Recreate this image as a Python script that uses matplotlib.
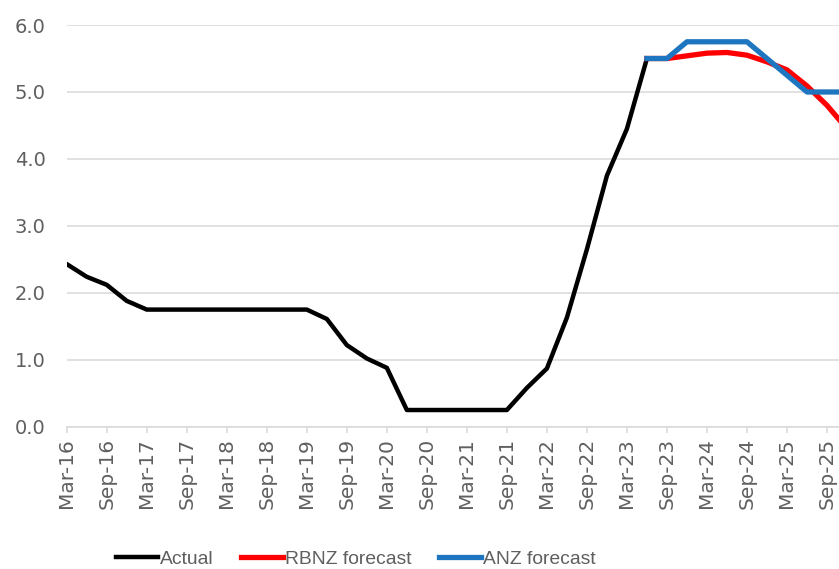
import matplotlib.pyplot as plt
import numpy as np

# quarterly labels, Mar-16 .. Dec-25
quarters = ['Mar-16', 'Jun-16', 'Sep-16', 'Dec-16', 'Mar-17', 'Jun-17', 'Sep-17', 'Dec-17',
            'Mar-18', 'Jun-18', 'Sep-18', 'Dec-18', 'Mar-19', 'Jun-19', 'Sep-19', 'Dec-19',
            'Mar-20', 'Jun-20', 'Sep-20', 'Dec-20', 'Mar-21', 'Jun-21', 'Sep-21', 'Dec-21',
            'Mar-22', 'Jun-22', 'Sep-22', 'Dec-22', 'Mar-23', 'Jun-23', 'Sep-23', 'Dec-23',
            'Mar-24', 'Jun-24', 'Sep-24', 'Dec-24', 'Mar-25', 'Jun-25', 'Sep-25', 'Dec-25']

# OCR actual, Mar-16 .. Jun-23
actual = [2.43, 2.24, 2.12, 1.88, 1.75, 1.75, 1.75, 1.75,
          1.75, 1.75, 1.75, 1.75, 1.75, 1.61, 1.22, 1.02,
          0.88, 0.25, 0.25, 0.25, 0.25, 0.25, 0.25, 0.58,
          0.87, 1.63, 2.65, 3.75, 4.45, 5.5]

# forecasts, Jun-23 .. Dec-25
rbnz = [5.5, 5.5, 5.54, 5.58, 5.59, 5.55, 5.45, 5.33, 5.09, 4.8, 4.45]
anz = [5.5, 5.5, 5.75, 5.75, 5.75, 5.75, 5.5, 5.25, 5.0, 5.0, 5.0]

x_act = np.arange(len(actual))
x_fc = np.arange(len(actual) - 1, len(quarters))

grey = '#5f5f5f'

fig = plt.figure(figsize=(8.39, 5.69), dpi=100)
ax = fig.add_axes([0.0795, 0.25, 0.9205, 0.706])

ax.plot(x_act, actual, color='black', lw=3.2, label='Actual', zorder=3)
ax.plot(x_fc, rbnz, color='#ff0000', lw=3.8, label='RBNZ forecast', zorder=3)
ax.plot(x_fc, anz, color='#1f76c0', lw=3.8, label='ANZ forecast', zorder=4)

ax.set_xlim(0, 38.6)
ax.set_ylim(0, 6)
ax.set_yticks(np.arange(0, 7, 1))
ax.set_yticklabels([f'{v:.1f}' for v in np.arange(0, 7, 1)])
ax.set_xticks(np.arange(0, len(quarters), 2))
ax.set_xticklabels(quarters[::2], rotation=90)

ax.grid(axis='y', color='#d9d9d9', lw=1.1)
ax.set_axisbelow(True)
for s in ['top', 'right', 'left']:
    ax.spines[s].set_visible(False)
ax.spines['bottom'].set_color('#d9d9d9')
ax.spines['bottom'].set_linewidth(1.1)

ax.tick_params(axis='y', length=0, pad=15, labelsize=14, labelcolor=grey)
ax.tick_params(axis='x', length=4, color='#d9d9d9', width=1.1, pad=4,
               labelsize=14.5, labelcolor=grey)

fig.legend(loc='center', bbox_to_anchor=(0.424, 0.018), ncol=3, frameon=False,
           prop={'family': 'Liberation Sans', 'size': 13.9}, labelcolor=grey,
           handlelength=2.2, handletextpad=0.1, columnspacing=1.4)

plt.savefig('out.png', dpi=100)
